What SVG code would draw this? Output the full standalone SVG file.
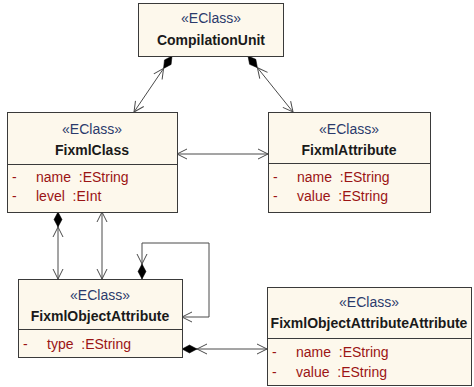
<svg xmlns="http://www.w3.org/2000/svg" width="474" height="387" viewBox="0 0 474 387">
<style>
.box{fill:#fdf8ec;stroke:#3a3a3a;stroke-width:1}
.div{stroke:#3a3a3a;stroke-width:1}
.st{font-family:"Liberation Sans",Arial,sans-serif;font-size:14px;fill:#2b3a6b;text-anchor:middle}
.nm{font-family:"Liberation Sans",Arial,sans-serif;font-size:14px;font-weight:bold;fill:#1a1a1a;text-anchor:middle}
.at{font-family:"Liberation Sans",Arial,sans-serif;font-size:14px;fill:#9b1414;white-space:pre}
.conn path{fill:none;stroke:#4a4a4a;stroke-width:1}
</style>
<defs>
<marker id="arrow" markerUnits="userSpaceOnUse" viewBox="0 0 12 12" refX="11" refY="6" markerWidth="12" markerHeight="12" orient="auto-start-reverse">
<path d="M1,1 L11,6 L1,11" fill="none" stroke="#4a4a4a" stroke-width="1"/>
</marker>
<marker id="diamondArrow" markerUnits="userSpaceOnUse" viewBox="0 -8 30 16" refX="0" refY="0" markerWidth="30" markerHeight="16" orient="auto" overflow="visible">
<path d="M0,0 L7.5,-4 L15,0 L7.5,4 Z" fill="#000" stroke="#000" stroke-width="0.5"/>
<path d="M25,-5 L15,0 L25,5" fill="none" stroke="#4a4a4a" stroke-width="1"/>
</marker>
</defs>

<g id="connectors" class="conn">
<path d="M172,56 L134,112" marker-start="url(#diamondArrow)" marker-end="url(#arrow)"/>
<path d="M248,56 L293,112" marker-start="url(#diamondArrow)" marker-end="url(#arrow)"/>
<path d="M177,154 L268,154" marker-start="url(#arrow)" marker-end="url(#arrow)"/>
<path d="M58,212 L58,279" marker-start="url(#diamondArrow)" marker-end="url(#arrow)"/>
<path d="M102,212 L102,279" marker-start="url(#arrow)" marker-end="url(#arrow)"/>
<path d="M142,279 L142,243 L209,243 L209,317 L182,317" marker-start="url(#diamondArrow)" marker-end="url(#arrow)"/>
<path d="M182,349 L267,349" marker-start="url(#diamondArrow)" marker-end="url(#arrow)"/>
</g>

<g id="CompilationUnit">
<rect class="box" x="138.5" y="3.5" width="145" height="53"/>
<text class="st" x="211" y="23">«EClass»</text>
<text class="nm" x="211" y="45">CompilationUnit</text>
</g>

<g id="FixmlClass">
<rect class="box" x="7.5" y="112.5" width="170" height="100"/>
<line class="div" x1="7.5" y1="164.5" x2="177.5" y2="164.5"/>
<text class="st" x="92" y="134">«EClass»</text>
<text class="nm" x="92" y="155">FixmlClass</text>
<text class="at" x="12" y="182">-</text>
<text class="at" x="36" y="182">name  :EString</text>
<text class="at" x="12" y="201">-</text>
<text class="at" x="36" y="201">level  :EInt</text>
</g>

<g id="FixmlAttribute">
<rect class="box" x="268.5" y="112.5" width="162" height="100"/>
<line class="div" x1="268.5" y1="163.5" x2="430.5" y2="163.5"/>
<text class="st" x="349" y="134">«EClass»</text>
<text class="nm" x="349" y="155">FixmlAttribute</text>
<text class="at" x="273" y="182">-</text>
<text class="at" x="297" y="182">name  :EString</text>
<text class="at" x="273" y="201">-</text>
<text class="at" x="297" y="201">value  :EString</text>
</g>

<g id="FixmlObjectAttribute">
<rect class="box" x="18.5" y="279.5" width="164" height="78"/>
<line class="div" x1="18.5" y1="329.5" x2="182.5" y2="329.5"/>
<text class="st" x="100" y="300">«EClass»</text>
<text class="nm" x="100" y="321">FixmlObjectAttribute</text>
<text class="at" x="23" y="349">-</text>
<text class="at" x="47" y="349">type  :EString</text>
</g>

<g id="FixmlObjectAttributeAttribute">
<rect class="box" x="267.5" y="287.5" width="204" height="98"/>
<line class="div" x1="267.5" y1="338.5" x2="471.5" y2="338.5"/>
<text class="st" x="369" y="307">«EClass»</text>
<text class="nm" x="369" y="328">FixmlObjectAttributeAttribute</text>
<text class="at" x="272" y="357">-</text>
<text class="at" x="296" y="357">name  :EString</text>
<text class="at" x="272" y="377">-</text>
<text class="at" x="296" y="377">value  :EString</text>
</g>
</svg>
